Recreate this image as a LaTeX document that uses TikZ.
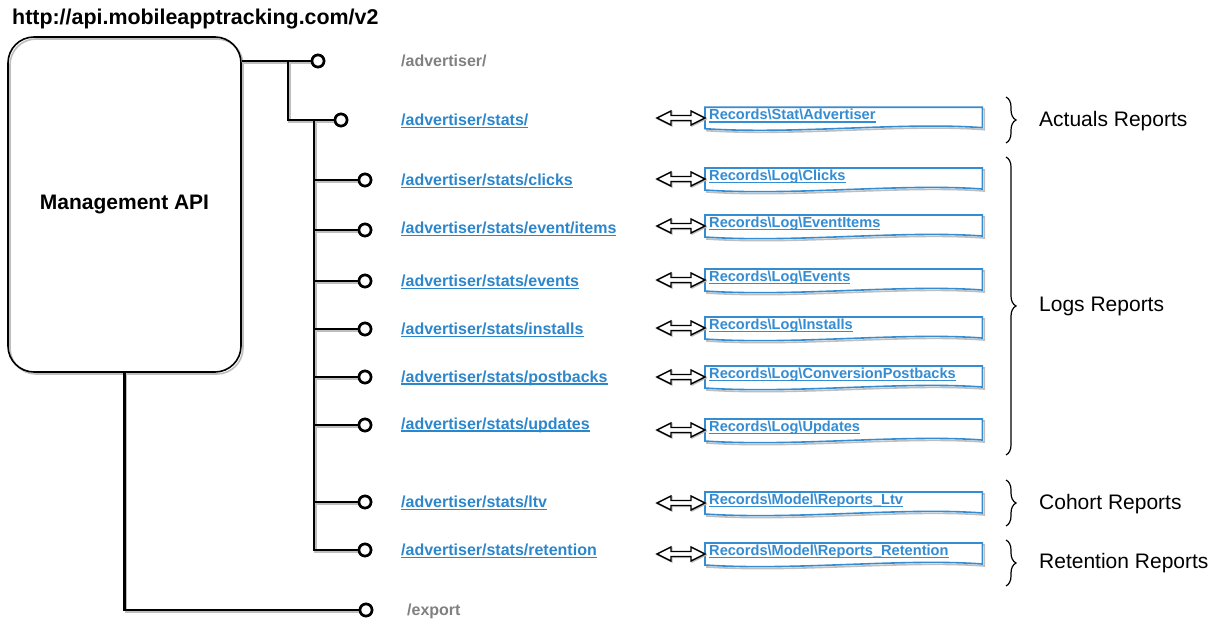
\documentclass[tikz,border=0pt]{standalone}
\usepackage{fontspec}
\setmainfont{Liberation Sans}
\usetikzlibrary{decorations.pathreplacing,calc}
\definecolor{linkblue}{RGB}{44,134,204}
\definecolor{recblue}{RGB}{52,140,210}
\definecolor{labgray}{RGB}{128,128,128}
\definecolor{shade}{RGB}{190,190,190}
\newcommand{\lnk}[1]{\setbox0=\hbox{#1}\leavevmode\rlap{\rule[-2.6pt]{\wd0}{1.3pt}}\box0}
\tikzset{
  wire/.style={line width=2.8pt, preaction={draw=shade, line width=2.8pt, transform canvas={shift={(1.5pt,-1.5pt)}}}},
  port/.style={circle, draw, line width=2.6pt, fill=white, minimum size=12pt, inner sep=0pt},
  apibox/.style={draw, line width=1.6pt, rounded corners=26pt, minimum width=233pt, minimum height=335pt, font=\fontsize{21}{25}\selectfont\bfseries},
  linklab/.style={anchor=west, inner sep=0pt, text=linkblue, font=\fontsize{16}{19}\selectfont\bfseries},
  graylab/.style={anchor=west, inner sep=0pt, text=labgray, font=\fontsize{16}{19}\selectfont\bfseries},
  rec/.style={anchor=west, minimum width=277pt, minimum height=21pt, inner sep=4pt, text width=269pt, align=left, text=recblue, font=\fontsize{14.6}{17}\selectfont\bfseries},
  recline/.style={draw=recblue, line width=1.6pt, fill=white},
  arrowshape/.style={draw, line width=1.4pt, fill=white, line join=miter},
  bracestyle/.style={decorate, decoration={brace, amplitude=10pt}, line width=1.2pt},
  grouplab/.style={anchor=west, inner sep=0pt, font=\fontsize{21}{25}\selectfont},
  dbl/.pic={\path[arrowshape, preaction={draw=shade, line width=1.4pt, transform canvas={shift={(1pt,-1pt)}}}] (0,0) -- (14,-7) -- (14,-2.5) -- (34,-2.5) -- (34,-7) -- (48,0) -- (34,7) -- (34,2.5) -- (14,2.5) -- (14,7) -- cycle;}
}
\newcommand{\recbox}[3]{% name, center y, text
  \node[rec] (#1) at (705,#2) {\phantom{#3}};
  \path[recline, preaction={draw=shade, line width=1.6pt, transform canvas={shift={(2pt,-2pt)}}}]
    (#1.north west) -- (#1.north east) -- ([yshift=1pt]#1.south east)
    .. controls ([xshift=-80pt,yshift=7pt]#1.south east) and ([xshift=90pt,yshift=-6pt]#1.south west) .. (#1.south west) -- cycle;
  \node[rec, anchor=center] at ([yshift=2pt]#1.center) {\lnk{#3}};
  \pic at ([xshift=-48pt]#1.west) {dbl};
}
\begin{document}
\begin{tikzpicture}[x=1pt,y=-1pt]
\useasboundingbox (0,0) rectangle (1222,628);
\node[anchor=west, inner sep=0pt, font=\fontsize{21.4}{25}\selectfont\bfseries] (title) at (12,19) {http://api.mobileapptracking.com/v2};
\node[apibox, preaction={draw=shade, line width=1.6pt, transform canvas={shift={(2pt,-2pt)}}}] (api) at (124.5,204.5) {Management API};

% ports
\node[port] (p0) at (318,61) {};
\node[port] (p1) at (341,120) {};
\node[port] (p2) at (365,180) {};
\node[port] (p3) at (365,230) {};
\node[port] (p4) at (365,281) {};
\node[port] (p5) at (365,329) {};
\node[port] (p6) at (365,377) {};
\node[port] (p7) at (365,425) {};
\node[port] (p8) at (365,502) {};
\node[port] (p9) at (365,550) {};
\node[port] (pE) at (366,610) {};

\coordinate (j1) at (288,61);
\coordinate (j2) at (314,120);

\draw[wire] (api.east |- p0) -- (p0);
\draw[wire] (j1) |- (p1);
\draw[wire] (j2) |- (p9);
\foreach \p in {p2,p3,p4,p5,p6,p7,p8} { \draw[wire] (j2 |- \p) -- (\p); }
\draw[wire] (api.south) |- (pE);
% redraw ports on top
\foreach \x/\y in {318/61,341/120,365/180,365/230,365/281,365/329,365/377,365/425,365/502,365/550,366/610} {
  \node[port] at (\x,\y) {};
}

% labels
\node[graylab] (l0) at (401,61) {/advertiser/};
\node[linklab] (l1) at (401,121) {\lnk{/advertiser/stats/}};
\node[linklab] (l2) at (401,181) {\lnk{/advertiser/stats/clicks}};
\node[linklab] (l3) at (401,229) {\lnk{/advertiser/stats/event/items}};
\node[linklab] (l4) at (401,282) {\lnk{/advertiser/stats/events}};
\node[linklab] (l5) at (401,330) {\lnk{/advertiser/stats/installs}};
\node[linklab] (l6) at (401,378) {\lnk{/advertiser/stats/postbacks}};
\node[linklab] (l7) at (401,425) {\lnk{/advertiser/stats/updates}};
\node[linklab] (l8) at (401,503) {\lnk{/advertiser/stats/ltv}};
\node[linklab] (l9) at (401,551) {\lnk{/advertiser/stats/retention}};
\node[graylab] (lE) at (407,611) {/export};

% records
\recbox{r1}{118}{Records\textbackslash Stat\textbackslash Advertiser}
\recbox{r2}{179}{Records\textbackslash Log\textbackslash Clicks}
\recbox{r3}{226}{Records\textbackslash Log\textbackslash EventItems}
\recbox{r4}{280}{Records\textbackslash Log\textbackslash Events}
\recbox{r5}{328}{Records\textbackslash Log\textbackslash Installs}
\recbox{r6}{377}{Records\textbackslash Log\textbackslash ConversionPostbacks}
\recbox{r7}{430}{Records\textbackslash Log\textbackslash Updates}
\recbox{r8}{503}{Records\textbackslash Model\textbackslash Reports\_Ltv}
\recbox{r9}{554}{Records\textbackslash Model\textbackslash Reports\_Retention}

% braces
\draw[bracestyle] (1006,97) -- (1006,143);
\draw[bracestyle] (1006,157) -- (1006,455);
\draw[bracestyle] (1006,480) -- (1006,526);
\draw[bracestyle] (1006,540) -- (1006,586);
\node[grouplab] (g1) at (1039,121) {Actuals Reports};
\node[grouplab] (g2) at (1039,306) {Logs Reports};
\node[grouplab] (g3) at (1039,504) {Cohort Reports};
\node[grouplab] (g4) at (1039,563) {Retention Reports};
\end{tikzpicture}
\end{document}
